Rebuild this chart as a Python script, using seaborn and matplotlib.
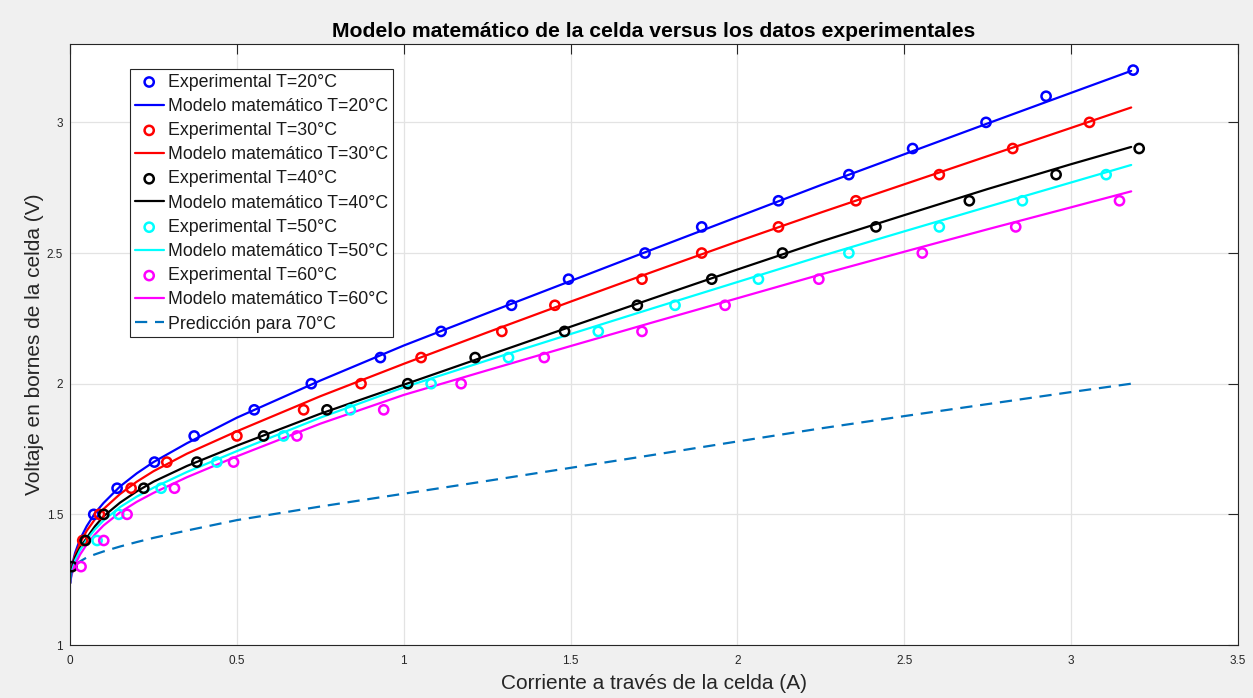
import numpy as np
import pandas as pd
import matplotlib
matplotlib.use("Agg")
import matplotlib.pyplot as plt
import seaborn as sns

# ---------------- data ----------------
temps = ["20", "30", "40", "50", "60"]
colors = ["#0000FF", "#FF0000", "#000000", "#00FFFF", "#FF00FF"]
pred_color = "#0072BD"

# experimental points
exp20_i = [0.071, 0.141, 0.253, 0.372, 0.552, 0.723, 0.93, 1.112, 1.323, 1.494,
           1.723, 1.893, 2.123, 2.334, 2.525, 2.745, 2.925, 3.186]
exp20_v = [1.5, 1.6, 1.7, 1.8, 1.9, 2.0, 2.1, 2.2, 2.3, 2.4,
           2.5, 2.6, 2.7, 2.8, 2.9, 3.0, 3.1, 3.2]
exp30_i = [0.038, 0.088, 0.183, 0.29, 0.50, 0.70, 0.872, 1.052, 1.294, 1.453,
           1.714, 1.893, 2.123, 2.355, 2.605, 2.825, 3.055]
exp30_v = [1.4, 1.5, 1.6, 1.7, 1.8, 1.9, 2.0, 2.1, 2.2, 2.3,
           2.4, 2.5, 2.6, 2.7, 2.8, 2.9, 3.0]
exp40_i = [0.006, 0.046, 0.101, 0.221, 0.38, 0.58, 0.77, 1.012, 1.214, 1.482,
           1.70, 1.923, 2.135, 2.415, 2.695, 2.955, 3.204]
exp40_v = [1.3, 1.4, 1.5, 1.6, 1.7, 1.8, 1.9, 2.0, 2.1, 2.2,
           2.3, 2.4, 2.5, 2.6, 2.7, 2.8, 2.9]
exp50_i = [0.081, 0.146, 0.273, 0.44, 0.64, 0.84, 1.082, 1.314, 1.583, 1.813,
           2.063, 2.334, 2.605, 2.854, 3.105]
exp50_v = [1.4, 1.5, 1.6, 1.7, 1.8, 1.9, 2.0, 2.1, 2.2, 2.3,
           2.4, 2.5, 2.6, 2.7, 2.8]
exp60_i = [0.033, 0.101, 0.171, 0.313, 0.49, 0.68, 0.94, 1.172, 1.421, 1.714,
           1.963, 2.244, 2.554, 2.834, 3.145]
exp60_v = [1.3, 1.4, 1.5, 1.6, 1.7, 1.8, 1.9, 2.0, 2.1, 2.2,
           2.3, 2.4, 2.5, 2.6, 2.7]

# model curves, sampled at these currents
model_i = [0.0, 0.005, 0.015, 0.03, 0.05, 0.075, 0.1, 0.15, 0.2, 0.25, 0.35,
           0.5, 0.75, 1.0, 1.25, 1.5, 1.75, 2.0, 2.25, 2.5, 2.75, 3.0, 3.18]
model20_v = [1.236, 1.30, 1.352, 1.405, 1.455, 1.505, 1.543, 1.607, 1.657, 1.70, 1.772,
             1.87, 2.012, 2.146, 2.27, 2.393, 2.516, 2.638, 2.76, 2.878, 2.996, 3.113, 3.197]
model30_v = [1.236, 1.295, 1.343, 1.39, 1.437, 1.482, 1.52, 1.578, 1.625, 1.665, 1.732,
             1.818, 1.952, 2.076, 2.196, 2.314, 2.43, 2.544, 2.655, 2.763, 2.871, 2.979, 3.057]
model40_v = [1.236, 1.29, 1.335, 1.372, 1.41, 1.455, 1.492, 1.545, 1.588, 1.625, 1.685,
             1.763, 1.885, 1.996, 2.107, 2.218, 2.328, 2.437, 2.544, 2.645, 2.745, 2.84, 2.906]
model50_v = [1.236, 1.28, 1.323, 1.363, 1.403, 1.443, 1.476, 1.528, 1.568, 1.602, 1.662,
             1.742, 1.87, 1.986, 2.089, 2.19, 2.29, 2.389, 2.488, 2.583, 2.677, 2.77, 2.837]
model60_v = [1.236, 1.27, 1.308, 1.346, 1.385, 1.424, 1.457, 1.508, 1.548, 1.582, 1.642,
             1.722, 1.847, 1.957, 2.051, 2.144, 2.236, 2.327, 2.418, 2.505, 2.591, 2.675, 2.736]
pred70_v = [1.236, 1.28, 1.305, 1.32, 1.335, 1.347, 1.358, 1.377, 1.394, 1.41, 1.438,
            1.478, 1.53, 1.579, 1.628, 1.678, 1.728, 1.779, 1.829, 1.876, 1.922, 1.968, 2.0]

title = "Modelo matemático de la celda versus los datos experimentales"
xlabel = "Corriente a través de la celda (A)"
ylabel = "Voltaje en bornes de la celda (V)"
xticks = [0, 0.5, 1, 1.5, 2, 2.5, 3, 3.5]
xtick_labels = ["0", "0.5", "1", "1.5", "2", "2.5", "3", "3.5"]
yticks = [1, 1.5, 2, 2.5, 3]
ytick_labels = ["1", "1.5", "2", "2.5", "3"]

exp_i = [exp20_i, exp30_i, exp40_i, exp50_i, exp60_i]
exp_v = [exp20_v, exp30_v, exp40_v, exp50_v, exp60_v]
model_v = [model20_v, model30_v, model40_v, model50_v, model60_v]

# ---------------- styling ----------------
sns.set_theme(style="whitegrid")
plt.rcParams["font.family"] = ["Liberation Sans", "DejaVu Sans"]
plt.rcParams["axes.unicode_minus"] = False

fig = plt.figure(figsize=(12.53, 6.98), dpi=100, facecolor="#F0F0F0")
ax = fig.add_axes([0.0559, 0.0759, 0.9321, 0.8611])
ax.set_facecolor("white")

handles = []
for k, t in enumerate(temps):
    df_e = pd.DataFrame({"I": exp_i[k], "V": exp_v[k]})
    sns.scatterplot(data=df_e, x="I", y="V", ax=ax, marker="o", s=44,
                    facecolors="none", edgecolor=colors[k], linewidth=1.8,
                    zorder=3, legend=False)
    h_pts = ax.collections[-1]
    h_pts.set_label(f"Experimental T={t}°C")
    df_m = pd.DataFrame({"I": model_i, "V": model_v[k]})
    sns.lineplot(data=df_m, x="I", y="V", ax=ax, color=colors[k], linewidth=1.6,
                 sort=False, estimator=None, zorder=2, legend=False)
    h_line = ax.lines[-1]
    h_line.set_label(f"Modelo matemático T={t}°C")
    handles += [h_pts, h_line]

df_p = pd.DataFrame({"I": model_i, "V": pred70_v})
sns.lineplot(data=df_p, x="I", y="V", ax=ax, color=pred_color, linewidth=1.6,
             sort=False, estimator=None, zorder=2, legend=False)
h_pred = ax.lines[-1]
h_pred.set_dashes((5.5, 3.5))
h_pred.set_label("Predicción para 70°C")
handles.append(h_pred)

ax.set_xlim(0, 3.5)
ax.set_ylim(1, 3.3)
ax.set_xticks(xticks)
ax.set_xticklabels(xtick_labels)
ax.set_yticks(yticks)
ax.set_yticklabels(ytick_labels)
ax.tick_params(axis="both", which="both", direction="in", length=7, width=0.8,
               colors="#262626", labelsize=8.5, top=True, right=True,
               labeltop=False, labelright=False)
ax.tick_params(axis="x", pad=7)
ax.tick_params(axis="y", pad=5)
ax.grid(True, color="#E3E3E3", linewidth=0.9)
for sp in ax.spines.values():
    sp.set_visible(True)
    sp.set_color("#262626")
    sp.set_linewidth(0.8)

ax.set_title(title, fontsize=15.2, fontweight="bold", color="black", pad=5)
ax.set_xlabel(xlabel, fontsize=15, color="#262626", labelpad=5)
ax.set_ylabel(ylabel, fontsize=15, color="#262626", labelpad=2)

leg = ax.legend(handles=handles, loc="upper left", bbox_to_anchor=(0.0514, 0.958),
                fontsize=12.8, frameon=True, fancybox=False, shadow=False,
                borderpad=0.25, borderaxespad=0, handlelength=1.65,
                handletextpad=0.25, labelspacing=0.405, scatterpoints=1,
                labelcolor="#1a1a1a")
leg.get_frame().set_edgecolor("#262626")
leg.get_frame().set_linewidth(0.8)
leg.get_frame().set_facecolor("white")
leg.get_frame().set_alpha(1)

fig.savefig("out.png", dpi=100, facecolor=fig.get_facecolor())
